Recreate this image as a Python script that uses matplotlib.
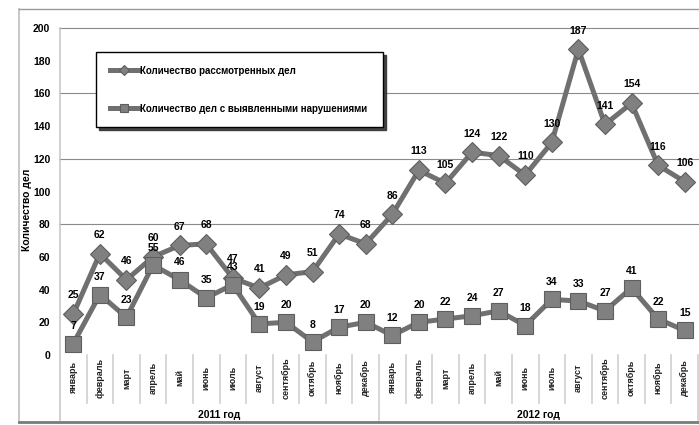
import matplotlib
matplotlib.use("Agg")
import matplotlib.pyplot as plt
from matplotlib.lines import Line2D
import matplotlib.transforms as mtransforms

plt.rcParams['font.family'] = ['Liberation Sans', 'DejaVu Sans']

# данные
months = ['январь', 'февраль', 'март', 'апрель', 'май', 'июнь', 'июль', 'август',
          'сентябрь', 'октябрь', 'ноябрь', 'декабрь']
years = ['2011 год', '2012 год']
cases_total = [25, 62, 46, 60, 67, 68, 47, 41, 49, 51, 74, 68,
               86, 113, 105, 124, 122, 110, 130, 187, 141, 154, 116, 106]
cases_viol = [7, 37, 23, 55, 46, 35, 43, 19, 20, 8, 17, 20,
              12, 20, 22, 24, 27, 18, 34, 33, 27, 41, 22, 15]
labels = months * len(years)
x = list(range(len(labels)))

fig = plt.figure(figsize=(6.99, 4.25), dpi=100)
ax = fig.add_axes([60 / 699, 1 - 355 / 425, 638 / 699, 327 / 425])

line_c = '#707070'
mark_c = '#808080'
edge_c = '#5e5e5e'

ax.plot(x, cases_total, color=line_c, lw=3.6, marker='D', ms=10,
        mfc=mark_c, mec=edge_c, mew=0.8, label='Количество рассмотренных дел', zorder=3)
ax.plot(x, cases_viol, color=line_c, lw=3.6, marker='s', ms=12,
        mfc=mark_c, mec=edge_c, mew=0.8, label='Количество дел с выявленными нарушениями', zorder=3)

for xi, v in zip(x, cases_total):
    ax.annotate(str(v), (xi, v), xytext=(0, 13.5), textcoords='offset points',
                ha='center', va='center', fontsize=7.5, fontweight='bold', zorder=5)
for xi, v in zip(x, cases_viol):
    ax.annotate(str(v), (xi, v), xytext=(0, 12.5), textcoords='offset points',
                ha='center', va='center', fontsize=7.5, fontweight='bold', zorder=5)

ax.set_xlim(-0.5, len(labels) - 0.5)
ax.set_ylim(0, 200)
ax.set_yticks(range(0, 201, 20))
ax.set_yticklabels([str(v) for v in range(0, 201, 20)], fontsize=7.5, fontweight='bold')
ax.tick_params(axis='y', length=0, pad=7)
ax.set_xticks([])
for s in ['top', 'right', 'bottom', 'left']:
    ax.spines[s].set_visible(False)

for g in [80, 120, 160, 200]:
    ax.plot([-0.55, len(labels) - 0.5], [g, g], color='#8a8a8a', lw=0.8, zorder=1, clip_on=False)

trans = mtransforms.blended_transform_factory(ax.transData, ax.transAxes)
# левая ось и разделители категорий
ax.plot([-0.5, -0.5], [-0.2, 1.0], color='#c8c8c8', lw=1.2, transform=trans, clip_on=False)
for k in range(1, len(labels) + 1):
    low = -0.2 if k % 12 == 0 else -0.147
    ax.plot([k - 0.5, k - 0.5], [0, low], color='#d0d0d0', lw=1.2,
            transform=trans, clip_on=False)
for xi, lab in zip(x, labels):
    ax.text(xi, -0.07, lab, rotation=90, ha='center', va='center', fontsize=6.5,
            fontweight='bold', color='#222222', transform=trans)
for i, yr in enumerate(years):
    ax.text(i * 12 + 5.5, -0.183, yr, ha='center', va='center', fontsize=7.5,
            fontweight='bold', transform=trans)

ax.text(-0.052, 0.443, 'Количество дел', rotation=90, ha='center', va='center',
        fontsize=7.5, fontweight='bold', transform=ax.transAxes)

leg = ax.legend(loc='upper left', bbox_to_anchor=(0.0564, 0.9266, 0.45, 0.0),
                mode='expand', prop={'weight': 'bold', 'size': 7},
                frameon=True, fancybox=False, shadow={'color': '#333333', 'alpha': 0.9},
                edgecolor='black', borderaxespad=0, borderpad=1.4, labelspacing=2.9,
                handlelength=2.9, handletextpad=0.2, markerscale=0.5)
leg.get_frame().set_linewidth(1.0)
leg.set_zorder(6)

# рамка диаграммы
fig.add_artist(Line2D([19 / 699, 19 / 699], [1 - 9 / 425, 1 - 422 / 425], color='#bdbdbd', lw=1.2))
fig.add_artist(Line2D([19 / 699, 1.0], [1 - 9 / 425, 1 - 9 / 425], color='#9a9a9a', lw=1.0))
fig.add_artist(Line2D([19 / 699, 1.0], [1 - 422 / 425, 1 - 422 / 425], color='#7a7a7a', lw=2.0))

fig.savefig('out.png', dpi=100)
